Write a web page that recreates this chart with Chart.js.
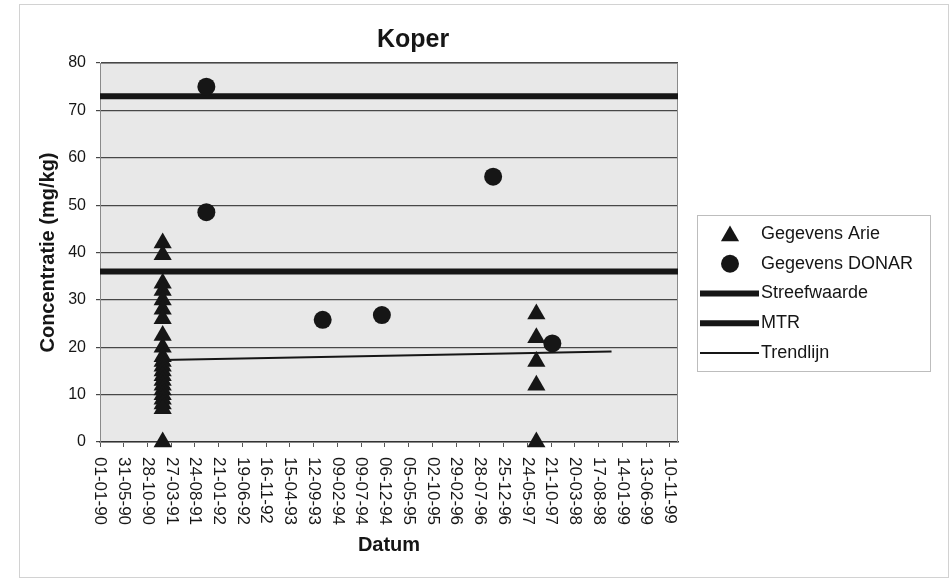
<!DOCTYPE html>
<html>
<head>
<meta charset="utf-8">
<title>Koper</title>
<script src="https://cdn.jsdelivr.net/npm/chart.js@4.4.1/dist/chart.umd.min.js"></script>
<style>
  html, body { margin: 0; padding: 0; background: #fff; }
  #wrap { position: relative; width: 951px; height: 582px; }
</style>
</head>
<body>
<div id="wrap"><canvas id="koperChart"></canvas></div>
<script>
// Values (dates dd-mm-yy, concentration in mg/kg)
const tickLabels = ['01-01-90', '31-05-90', '28-10-90', '27-03-91', '24-08-91', '21-01-92',
  '19-06-92', '16-11-92', '15-04-93', '12-09-93', '09-02-94', '09-07-94', '06-12-94',
  '05-05-95', '02-10-95', '29-02-96', '28-07-96', '25-12-96', '24-05-97', '21-10-97',
  '20-03-98', '17-08-98', '14-01-99', '13-06-99', '10-11-99'];
const axisStart = '01-01-90';
const axisEnd = '01-01-00';
const yTicks = [0, 10, 20, 30, 40, 50, 60, 70, 80];

const arieDates = ['01-02-91', '01-02-91', '01-02-91', '01-02-91', '01-02-91', '01-02-91',
  '01-02-91', '01-02-91', '01-02-91', '01-02-91', '01-02-91', '01-02-91', '01-02-91',
  '01-02-91', '01-02-91', '01-02-91', '01-02-91', '01-02-91', '01-02-91', '01-02-91',
  '01-02-91', '01-02-91',
  '20-07-97', '20-07-97', '20-07-97', '20-07-97', '20-07-97'];
const arieValues = [42, 39.5, 33.5, 32, 30, 28, 26, 22.5, 20, 18, 17, 16, 15, 14, 13, 12,
  11, 10, 9, 8, 7, 0,
  27, 22, 17, 12, 0];

const donarDates = ['04-11-91', '04-11-91', '08-11-93', '17-11-94', '20-10-96', '29-10-97'];
const donarValues = [75, 48.5, 25.8, 26.8, 56, 20.8];

const streefwaarde = 36;
const mtr = 73;

const trendDates = ['01-02-91', '07-11-98'];
const trendValues = [17.3, 19.1];

const seriesNames = ['Gegevens Arie', 'Gegevens DONAR', 'Streefwaarde', 'MTR', 'Trendlijn'];

// days since 01-01-90
function dayNum(s) {
  const [d, m, y] = s.split('-').map(Number);
  const yr = y < 50 ? 2000 + y : 1900 + y;
  return (Date.UTC(yr, m - 1, d) - Date.UTC(1990, 0, 1)) / 86400000;
}

const FONT = "'Liberation Sans', Arial, sans-serif";
const INK = '#161616';

const xMin = dayNum(axisStart);
const xMax = dayNum(axisEnd);

const arieData = arieDates.map((d, i) => ({ x: dayNum(d), y: arieValues[i] }));
const donarData = donarDates.map((d, i) => ({ x: dayNum(d), y: donarValues[i] }));
const trendData = trendDates.map((d, i) => ({ x: dayNum(d), y: trendValues[i] }));

const decor = {
  id: 'decor',
  beforeDraw(chart) {
    const { ctx, chartArea: a, width, height } = chart;
    ctx.save();
    ctx.fillStyle = '#fff';
    ctx.fillRect(0, 0, width, height);
    ctx.strokeStyle = '#d2d2d2';
    ctx.lineWidth = 1;
    ctx.strokeRect(19.5, 4.5, 929, 573);
    ctx.fillStyle = '#e8e8e8';
    ctx.fillRect(a.left, a.top, a.right - a.left, a.bottom - a.top);
    ctx.restore();
  },
  beforeDatasetsDraw(chart) {
    const { ctx, chartArea: a } = chart;
    ctx.save();
    ctx.strokeStyle = '#8a8a8a';
    ctx.lineWidth = 1;
    ctx.strokeRect(a.left + 0.5, a.top + 0.5, a.right - a.left - 1, a.bottom - a.top);
    ctx.restore();
  },
  afterDraw(chart) {
    const { ctx, chartArea: a } = chart;
    const xs = chart.scales.x;
    ctx.save();
    ctx.fillStyle = INK;

    // title
    ctx.font = 'bold 25px ' + FONT;
    ctx.textAlign = 'center';
    ctx.textBaseline = 'middle';
    ctx.fillText('Koper', 413, 40);

    // y axis title
    ctx.save();
    ctx.font = 'bold 20px ' + FONT;
    ctx.translate(48, (a.top + a.bottom) / 2);
    ctx.rotate(-Math.PI / 2);
    ctx.fillText('Concentratie (mg/kg)', 0, 0);
    ctx.restore();

    // x tick labels, turned clockwise
    ctx.font = '17px ' + FONT;
    ctx.textAlign = 'left';
    tickLabels.forEach(lbl => {
      const px = xs.getPixelForValue(dayNum(lbl));
      ctx.save();
      ctx.translate(px, a.bottom + 15);
      ctx.rotate(Math.PI / 2);
      ctx.fillText(lbl, 0, 0);
      ctx.restore();
    });

    // x axis title
    ctx.font = 'bold 20px ' + FONT;
    ctx.textAlign = 'center';
    ctx.fillText('Datum', (a.left + a.right) / 2, 545);

    // legend
    ctx.strokeStyle = '#bdbdbd';
    ctx.lineWidth = 1;
    ctx.strokeRect(697.5, 215.5, 233, 156);
    ctx.font = '18px ' + FONT;
    ctx.textAlign = 'left';
    chart.data.datasets.forEach((ds, i) => {
      const y = 234 + i * 29.75;
      if (ds.showLine) {
        ctx.strokeStyle = ds.borderColor;
        ctx.lineWidth = ds.borderWidth;
        ctx.beginPath();
        ctx.moveTo(700, y);
        ctx.lineTo(759, y);
        ctx.stroke();
      } else {
        ctx.fillStyle = ds.backgroundColor;
        Chart.helpers.drawPoint(ctx, {
          pointStyle: ds.pointStyle, radius: ds.pointRadius, rotation: 0, borderWidth: 0
        }, 730, y + (ds.pointStyle === 'triangle' ? 2 : 0));
      }
      ctx.fillStyle = INK;
      ctx.fillText(ds.label, 761, y);
    });
    ctx.restore();
  }
};

new Chart(document.getElementById('koperChart'), {
  type: 'scatter',
  data: {
    datasets: [
      {
        label: seriesNames[0],
        data: arieData,
        pointStyle: 'triangle',
        pointRadius: 10.5,
        backgroundColor: INK,
        borderColor: INK,
        borderWidth: 0,
        clip: false
      },
      {
        label: seriesNames[1],
        data: donarData,
        pointStyle: 'circle',
        pointRadius: 9,
        backgroundColor: INK,
        borderColor: INK,
        borderWidth: 0,
        clip: false
      },
      {
        label: seriesNames[2],
        data: [{ x: xMin, y: streefwaarde }, { x: xMax, y: streefwaarde }],
        showLine: true,
        pointRadius: 0,
        borderColor: INK,
        borderWidth: 6
      },
      {
        label: seriesNames[3],
        data: [{ x: xMin, y: mtr }, { x: xMax, y: mtr }],
        showLine: true,
        pointRadius: 0,
        borderColor: INK,
        borderWidth: 6
      },
      {
        label: seriesNames[4],
        data: trendData,
        showLine: true,
        pointRadius: 0,
        borderColor: INK,
        borderWidth: 2
      }
    ]
  },
  options: {
    responsive: true,
    maintainAspectRatio: false,
    animation: false,
    layout: { padding: { top: 63, right: 273, bottom: 0, left: 0 } },
    plugins: {
      legend: { display: false },
      tooltip: { enabled: false }
    },
    scales: {
      x: {
        type: 'linear',
        min: xMin,
        max: xMax,
        afterBuildTicks: scale => {
          scale.ticks = tickLabels.map(l => ({ value: dayNum(l) }));
        },
        afterFit: scale => { scale.height = 140; },
        ticks: { display: false },
        grid: {
          drawOnChartArea: false,
          drawTicks: true,
          tickLength: 5,
          color: '#555'
        },
        border: { color: '#333', width: 1.5 }
      },
      y: {
        min: 0,
        max: 80,
        afterBuildTicks: scale => {
          scale.ticks = yTicks.map(v => ({ value: v }));
        },
        afterFit: scale => { scale.width = 100; },
        ticks: {
          color: INK,
          padding: 10,
          font: { family: FONT, size: 16 }
        },
        grid: {
          color: '#474747',
          lineWidth: 1.2,
          tickLength: 4
        },
        border: { color: '#8a8a8a', width: 1 }
      }
    }
  },
  plugins: [decor]
});
</script>
</body>
</html>
